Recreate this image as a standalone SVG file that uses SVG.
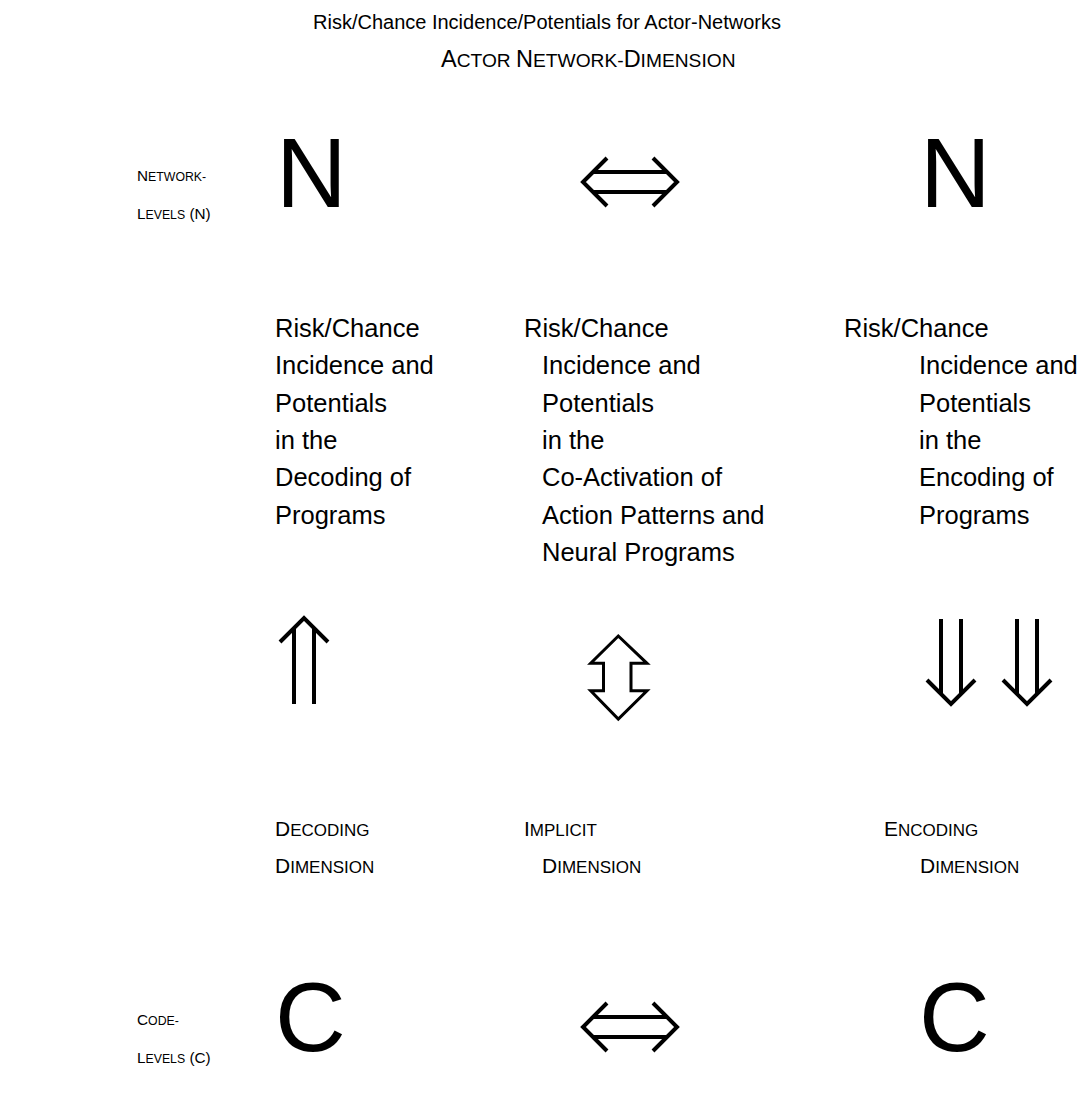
<svg xmlns="http://www.w3.org/2000/svg" width="1090" height="1112" viewBox="0 0 1090 1112">
  <style>
    text { font-family: "Liberation Sans", Arial, sans-serif; fill: #000; }
    .title { font-size: 20px; }
    .t2 { font-size: 23.5px; }
    .t2 .sc { font-size: 19.2px; }
    .body { font-size: 25.5px; }
    .dim { font-size: 21px; }
    .dim .sc { font-size: 17px; }
    .lvl { font-size: 15.3px; }
    .lvl .sc { font-size: 12.3px; }
    .big { font-size: 98px; }
    .arr { fill: none; stroke: #000; stroke-width: 4; stroke-linejoin: miter; stroke-linecap: butt; }
    .arr-o { fill: #fff; stroke: #000; stroke-width: 3; stroke-linejoin: miter; }
  </style>
  <defs>
    <!-- double-headed horizontal arrow -->
    <g id="dblH">
      <path class="arr" d="M607,158 L583,182 L607,206 M653,158 L677,182 L653,206 M593,172 H667 M593,192 H667"/>
    </g>
    <!-- double-shafted down arrow -->
    <g id="dblDown">
      <path class="arr" d="M927,680 L951,704 L975,680 M941,619 V694 M961,619 V694"/>
    </g>
  </defs>

  <g id="title">
    <text class="title" x="313" y="29">Risk/Chance Incidence/Potentials for Actor-Networks</text>
    <text class="t2" x="441" y="67">A<tspan class="sc">CTOR </tspan>N<tspan class="sc">ETWORK-</tspan>D<tspan class="sc">IMENSION</tspan></text>
  </g>

  <g id="network-levels-label">
    <text class="lvl" x="137" y="181">N<tspan class="sc">ETWORK-</tspan></text>
    <text class="lvl" x="137" y="219">L<tspan class="sc">EVELS</tspan> (N)</text>
  </g>
  <g id="code-levels-label">
    <text class="lvl" x="137" y="1025">C<tspan class="sc">ODE-</tspan></text>
    <text class="lvl" x="137" y="1063">L<tspan class="sc">EVELS</tspan> (C)</text>
  </g>

  <g id="n-left"><text class="big" x="276" y="207">N</text></g>
  <g id="n-right"><text class="big" x="920" y="207">N</text></g>
  <g id="c-left"><text class="big" x="275" y="1051">C</text></g>
  <g id="c-right"><text class="big" x="919" y="1051">C</text></g>

  <g id="decoding-risk" class="body">
    <text x="275" y="337">Risk/Chance</text>
    <text x="275" y="374.3">Incidence and</text>
    <text x="275" y="411.6">Potentials</text>
    <text x="275" y="448.9">in the</text>
    <text x="275" y="486.2">Decoding of</text>
    <text x="275" y="523.5">Programs</text>
  </g>
  <g id="coactivation-risk" class="body">
    <text x="524" y="337">Risk/Chance</text>
    <text x="542" y="374.3">Incidence and</text>
    <text x="542" y="411.6">Potentials</text>
    <text x="542" y="448.9">in the</text>
    <text x="542" y="486.2">Co-Activation of</text>
    <text x="542" y="523.5">Action Patterns and</text>
    <text x="542" y="560.8">Neural Programs</text>
  </g>
  <g id="encoding-risk" class="body">
    <text x="844" y="337">Risk/Chance</text>
    <text x="919" y="374.3">Incidence and</text>
    <text x="919" y="411.6">Potentials</text>
    <text x="919" y="448.9">in the</text>
    <text x="919" y="486.2">Encoding of</text>
    <text x="919" y="523.5">Programs</text>
  </g>

  <g id="decoding-dimension" class="dim">
    <text x="275" y="836">D<tspan class="sc">ECODING</tspan></text>
    <text x="275" y="873">D<tspan class="sc">IMENSION</tspan></text>
  </g>
  <g id="implicit-dimension" class="dim">
    <text x="524" y="836">I<tspan class="sc">MPLICIT</tspan></text>
    <text x="542" y="873">D<tspan class="sc">IMENSION</tspan></text>
  </g>
  <g id="encoding-dimension" class="dim">
    <text x="884" y="836">E<tspan class="sc">NCODING</tspan></text>
    <text x="920" y="873">D<tspan class="sc">IMENSION</tspan></text>
  </g>

  <g id="connectors">
    <!-- network level: N <=> N -->
    <use href="#dblH"/>
    <!-- code level: C <=> C -->
    <use href="#dblH" transform="translate(0,845)"/>
    <!-- decoding: up -->
    <path class="arr" d="M280,642 L304,618 L328,642 M294,628 V704 M314,628 V704"/>
    <!-- implicit: outlined up/down -->
    <path class="arr-o" d="M618.3,636 L590.7,663.3 H603.5 V690.7 H590.7 L618.3,719 L647,690.7 H631 V663.3 H647 Z"/>
    <!-- encoding: double down -->
    <use href="#dblDown"/>
    <use href="#dblDown" transform="translate(76,0)"/>
  </g>
</svg>
